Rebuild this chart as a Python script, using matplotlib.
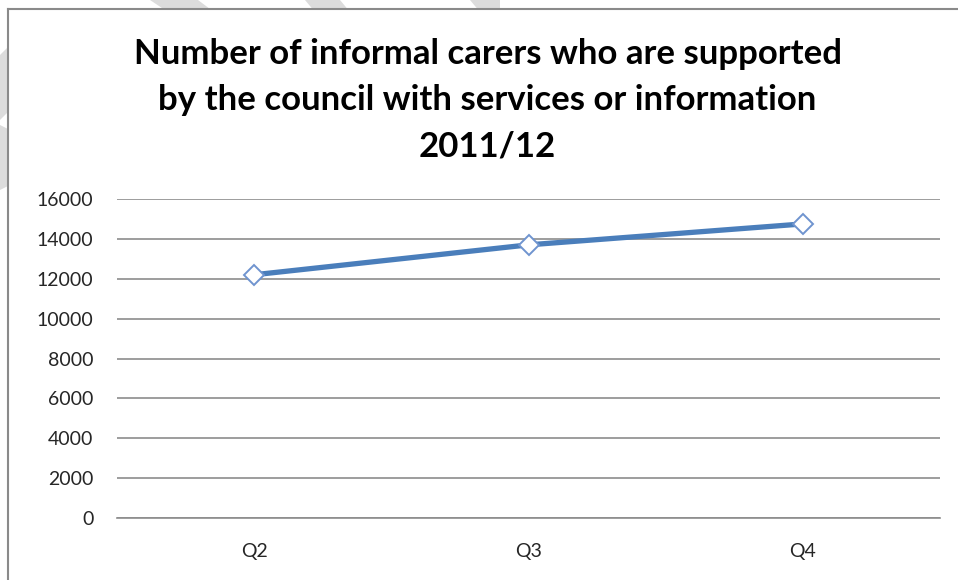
import numpy as np
import matplotlib.pyplot as plt
from matplotlib.patches import Polygon, Rectangle
from matplotlib.lines import Line2D

quarters = ["Q2", "Q3", "Q4"]
carers = [12200, 13700, 14750]
y_ticks = [0, 2000, 4000, 6000, 8000, 10000, 12000, 14000, 16000]

W, H = 958, 580
plt.rcParams["font.family"] = ["Lato", "DejaVu Sans"]

fig = plt.figure(figsize=(W / 100, H / 100), dpi=100)
fig.patch.set_facecolor("white")

def px(x, y):
    return (x / W, 1 - y / H)

# faint watermark strokes showing in the margins
for pts in [[(150, 0), (198, 0), (214, 12), (168, 12)],
            [(305, 0), (340, 0), (350, 12), (315, 12)],
            [(470, 0), (500, 0), (500, 12), (480, 12)],
            [(0, 55), (10, 45), (10, 110), (0, 120)],
            [(0, 125), (10, 130), (10, 185), (0, 190)]]:
    fig.patches.append(Polygon([px(*p) for p in pts], closed=True, transform=fig.transFigure,
                               facecolor="#dcdcdc", edgecolor="none", zorder=0))

# white chart area with border
fig.patches.append(Rectangle(px(8, H), (W - 8) / W, (H - 9) / H, transform=fig.transFigure,
                             facecolor="white", edgecolor="none", zorder=1))
fig.lines.append(Line2D([8 / W, 1], [1 - 9 / H, 1 - 9 / H], transform=fig.transFigure,
                        color="#8a8a8a", lw=1.5, zorder=2))
fig.lines.append(Line2D([8 / W, 8 / W], [0, 1 - 9 / H], transform=fig.transFigure,
                        color="#8a8a8a", lw=1.5, zorder=2))

ax = fig.add_axes([117 / W, 1 - 518 / H, (940 - 117) / W, (518 - 199) / H])
ax.set_facecolor("none")
ax.set_zorder(3)

x = np.arange(len(quarters))
ax.plot(x, carers, color="#4a7ebb", lw=3.8, marker="D", markersize=10,
        markerfacecolor="white", markeredgecolor="#6f94cf", markeredgewidth=1.4, zorder=4)

ax.set_xlim(-0.5, len(quarters) - 0.5)
ax.set_ylim(0, 16000)
ax.set_yticks(y_ticks)
ax.set_xticks(x)
ax.set_xticklabels(quarters)
ax.grid(axis="y", color="#8c8c8c", lw=1.2)
ax.set_axisbelow(True)
for s in ["top", "right", "left"]:
    ax.spines[s].set_visible(False)
ax.spines["bottom"].set_color("#8c8c8c")
ax.spines["bottom"].set_linewidth(1.2)
ax.tick_params(axis="y", length=0, pad=17, labelsize=14, labelcolor="#262626")
ax.tick_params(axis="x", length=0, pad=18, labelsize=14, labelcolor="#262626")

fig.text(487.5 / W, 1 - 100 / H,
         "Number of informal carers who are supported\nby the council with services or information\n2011/12",
         ha="center", va="center", fontsize=25, fontweight="bold", linespacing=1.55, color="black",
         zorder=5)

fig.savefig("out.png", dpi=100)
